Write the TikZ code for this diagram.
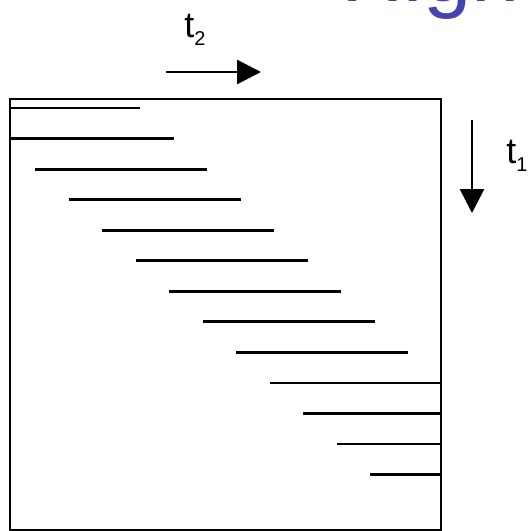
\documentclass[tikz,border=0pt]{standalone}
\usepackage{fontspec}
\setmainfont{Liberation Sans}
\usepackage{xcolor}
\usetikzlibrary{arrows.meta}
\definecolor{titleblue}{RGB}{68,68,176}

\begin{document}
\begin{tikzpicture}[
    x=0.75pt, y=-0.75pt,
    box/.style ={draw=black, line width=2.1pt},
    seg/.style ={line width=2.1pt},
    arr/.style ={-{Triangle[length=18pt,width=18pt]}, line width=2.1pt},
    tlbl/.style={anchor=base west, inner sep=0pt, font=\fontsize{27}{30}\selectfont},
    ttl/.style ={anchor=base west, inner sep=0pt, text=titleblue, font=\fontsize{65}{70}\selectfont}
  ]
  \useasboundingbox (0,0) rectangle (528,531);
  \clip (0,0) rectangle (528,531);

  %% ---- title, cut off at the top edge ----------------------------------
  \node[ttl] (title) at (341,2) {High};

  %% ---- time axes ---------------------------------------------------------
  \node[tlbl] (t2) at (184,38) {t\raisebox{-6pt}{\fontsize{15}{15}\selectfont 2}};
  \coordinate (t2 tail) at (166,72);
  \coordinate (t2 head) at (261,72);
  \draw[arr] (t2 tail) -- (t2 head);

  \node[tlbl] (t1) at (506,163) {t\raisebox{-6pt}{\fontsize{15}{15}\selectfont 1}};
  \coordinate (t1 tail) at (472,120);
  \coordinate (t1 head) at (472,213);
  \draw[arr] (t1 tail) -- (t1 head);

  %% ---- frame with the shifted segments ------------------------------------
  \coordinate (nw) at (10,99);
  \coordinate (se) at (441,530.5);
  \begin{scope}
    \clip (nw) rectangle (se);
    % each row moves down one step and right one step
    \foreach \k in {0,...,12}
      \draw[seg] ({35+33.5*(\k-2)},{108+30.55*\k}) -- ++(172,0);
  \end{scope}
  \draw[box] (nw) rectangle (se);
\end{tikzpicture}
\end{document}
